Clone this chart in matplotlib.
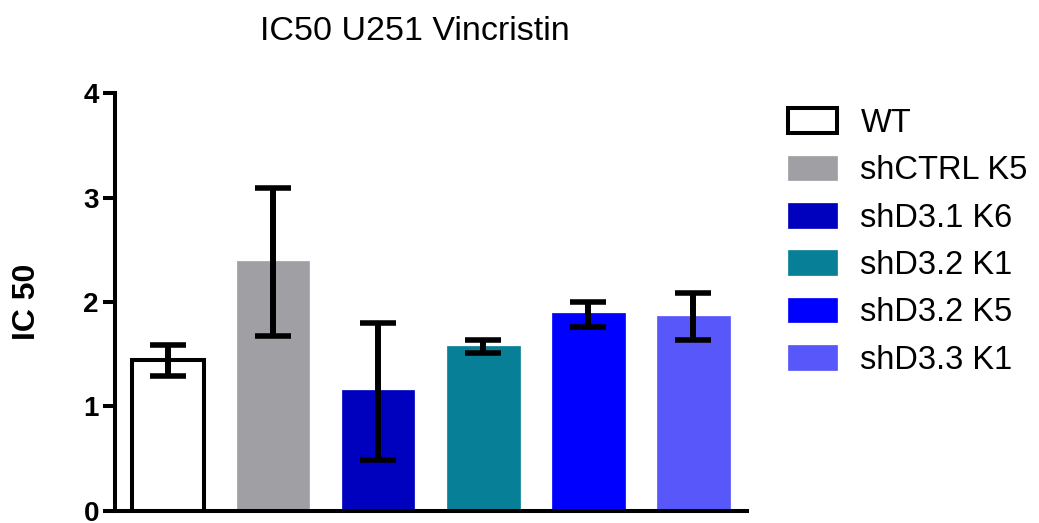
import matplotlib
matplotlib.use("Agg")
import matplotlib.pyplot as plt
import numpy as np

plt.rcParams['font.family'] = ['Liberation Sans', 'DejaVu Sans']

# Data
groups = ["WT", "shCTRL K5", "shD3.1 K6", "shD3.2 K1", "shD3.2 K5", "shD3.3 K1"]
ic50 = [1.44, 2.39, 1.16, 1.58, 1.89, 1.87]
err_low = [1.29, 1.67, 0.49, 1.51, 1.76, 1.64]
err_high = [1.59, 3.09, 1.80, 1.64, 2.00, 2.09]
y_ticks = [0, 1, 2, 3, 4]

colors = ["white", "#A0A0A4", "#0000BF", "#077F97", "#0000FF", "#5757FA"]
edges = ["black", "#A0A0A4", "#0000BF", "#077F97", "#0000FF", "#5757FA"]

fig = plt.figure(figsize=(10.39, 5.23), dpi=100)
ax = fig.add_axes([115 / 1039, 1 - 510.7 / 523, 632 / 1039, 417.4 / 523])

x = np.arange(len(groups))
vals = np.array(ic50)
yerr = np.array([vals - np.array(err_low), np.array(err_high) - vals])

handles = []
for i in range(len(groups)):
    lw = 2.9 if i == 0 else 0.5
    b = ax.bar(x[i], ic50[i], width=0.69, color=colors[i], edgecolor=edges[i],
               linewidth=lw, label=groups[i], zorder=2)
    handles.append(b)

ax.errorbar(x, vals, yerr=yerr, fmt="none", ecolor="black", elinewidth=4.3,
            capsize=13, capthick=4, zorder=3)

ax.set_xlim(-0.505, 5.51)
ax.set_ylim(0, 4)
ax.set_yticks(y_ticks)
ax.set_yticklabels([str(t) for t in y_ticks], fontsize=20, fontweight="bold")
ax.set_xticks([])
ax.tick_params(axis="y", length=8.6, width=2.9, pad=3)
for s in ["top", "right"]:
    ax.spines[s].set_visible(False)
for s in ["left", "bottom"]:
    ax.spines[s].set_linewidth(2.9)

ax.set_ylabel("IC 50", fontsize=23, fontweight="bold", va="center")
ax.yaxis.set_label_coords(-0.139, 0.5)

fig.text(415 / 1039, 1 - 31 / 523, "IC50 U251 Vincristin", fontsize=24.5,
         ha="center", va="center")

leg = fig.legend(handles=handles, labels=groups, loc="upper left",
                 bbox_to_anchor=(788 / 1039, 1 - 108 / 523), frameon=False,
                 fontsize=23.5, handlelength=1.5, handleheight=0.78,
                 handletextpad=0.72, labelspacing=0.5, borderpad=0,
                 borderaxespad=0)

fig.savefig("out.png", dpi=100)
